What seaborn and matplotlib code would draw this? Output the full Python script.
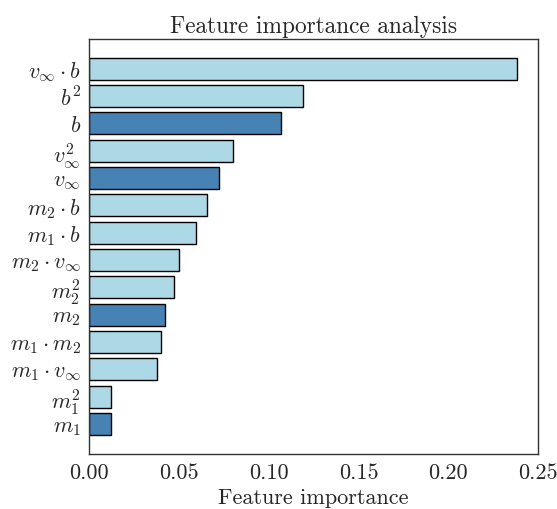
import matplotlib
matplotlib.use("Agg")
import matplotlib.pyplot as plt
import seaborn as sns
import pandas as pd

# Feature names (mathtext) and their importances, most important first
features = [
    r"$v_\infty \cdot b$", r"$b^2$", r"$b$", r"$v_\infty^2$", r"$v_\infty$",
    r"$m_2 \cdot b$", r"$m_1 \cdot b$", r"$m_2 \cdot v_\infty$", r"$m_2^2$",
    r"$m_2$", r"$m_1 \cdot m_2$", r"$m_1 \cdot v_\infty$", r"$m_1^2$", r"$m_1$",
]
importances = [
    0.238, 0.1193, 0.107, 0.080, 0.0722,
    0.0654, 0.0594, 0.0503, 0.0472,
    0.042, 0.040, 0.0377, 0.0124, 0.0120,
]
# Raw inputs versus derived (product / squared) features
kinds = [
    "derived", "derived", "raw", "derived", "raw",
    "derived", "derived", "derived", "derived",
    "raw", "derived", "derived", "derived", "raw",
]

df = pd.DataFrame({"feature": features, "importance": importances, "kind": kinds})

sns.set_style("white")
plt.rcParams["font.family"] = "serif"
plt.rcParams["font.serif"] = ["cmr10", "DejaVu Serif"]
plt.rcParams["mathtext.fontset"] = "cm"
plt.rcParams["axes.formatter.use_mathtext"] = True
plt.rcParams["axes.unicode_minus"] = False

fig = plt.figure(figsize=(5.57, 5.10), dpi=100)
ax = fig.add_axes([0.160, 0.108, 0.806, 0.814])

sns.barplot(
    data=df, x="importance", y="feature", hue="kind",
    palette={"derived": "#ADD8E6", "raw": "#4682B4"},
    orient="y", width=0.8, dodge=False, legend=False,
    edgecolor="black", linewidth=1.0, saturation=1.0, ax=ax,
)

n = len(features)
pad = 0.05 * (n - 1 + 0.8)
ax.set_ylim(n - 1 + 0.4 + pad, -0.4 - pad)
ax.set_xlim(0, 0.25)
ax.set_xticks([0.0, 0.05, 0.10, 0.15, 0.20, 0.25])
ax.set_xticklabels(["0.00", "0.05", "0.10", "0.15", "0.20", "0.25"])

ax.tick_params(axis="both", labelsize=16, length=0, pad=6)
ax.set_xlabel("Feature importance", fontsize=16, labelpad=4)
ax.set_ylabel("")
ax.set_title("Feature importance analysis", fontsize=16.8, pad=5)

for side in ["top", "right", "bottom", "left"]:
    ax.spines[side].set_visible(True)
    ax.spines[side].set_color("#333333")
    ax.spines[side].set_linewidth(1.0)

fig.savefig("out.png", dpi=100)
